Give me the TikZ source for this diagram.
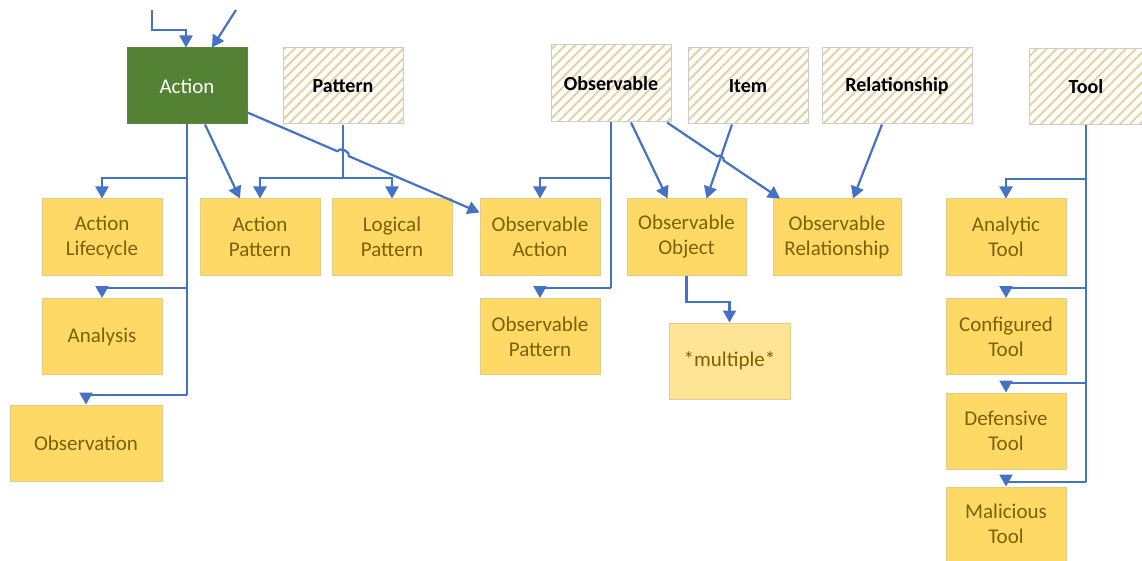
\documentclass[tikz,border=0pt]{standalone}
\usepackage{fontspec}
\setmainfont{Carlito}
\usetikzlibrary{arrows.meta,patterns.meta,calc}

\definecolor{leafyellow}{RGB}{255,217,102}
\definecolor{leafedge}{RGB}{226,204,140}
\definecolor{leaftext}{RGB}{127,96,0}
\definecolor{paleyellow}{RGB}{255,228,150}
\definecolor{actgreen}{RGB}{84,130,53}
\definecolor{hatchtan}{RGB}{228,210,162}
\definecolor{linkblue}{RGB}{68,114,196}

\tikzset{
  box/.style={draw, line width=1pt, minimum width=120pt, minimum height=76pt,
    align=center, inner sep=2pt, font=\fontsize{21}{25}\selectfont},
  leafbox/.style={box, draw=leafedge, fill=leafyellow, text=leaftext},
  hatchbox/.style={box, draw=gray!40,
    pattern={Lines[angle=45,distance=7pt,line width=2pt]}, pattern color=hatchtan,
    font=\fontsize{20}{24}\selectfont\bfseries},
  actbox/.style={box, draw=actgreen!85!gray, fill=actgreen, text=white},
  bus/.style={draw=linkblue, line width=2.2pt},
  link/.style={bus, -{Triangle[width=13pt,length=12pt]}}
}

\begin{document}
\begin{tikzpicture}[x=1pt,y=-1pt]
  \useasboundingbox (0,0) rectangle (1142,561);

  % top row
  \node[actbox] (act) at (187,86) {Action};
  \node[hatchbox] (pat) at (343,86) {Pattern};
  \node[hatchbox, minimum height=77pt] (obs) at (611,83.5) {Observable};
  \node[hatchbox] (item) at (748,86) {Item};
  \node[hatchbox, minimum width=150pt] (rel) at (897,86) {Relationship};
  \node[hatchbox, minimum width=114pt] (tool) at (1086,86.5) {Tool};

  % second row
  \node[leafbox] (alc) at (102,237) {Action\\Lifecycle};
  \node[leafbox] (apat) at (260,237) {Action\\Pattern};
  \node[leafbox] (lpat) at (392,237) {Logical\\Pattern};
  \node[leafbox] (oact) at (540,237) {Observable\\Action};
  \node[leafbox, minimum width=119pt] (oobj) at (686.5,237) {Observable\\Object};
  \node[leafbox, minimum width=128pt] (orel) at (837,237) {Observable\\Relationship};
  \node[leafbox] (atool) at (1006,237) {Analytic\\Tool};

  % lower boxes
  \node[leafbox] (anls) at (102,336.5) {Analysis};
  \node[leafbox] (opat) at (540,336.5) {Observable\\Pattern};
  \node[leafbox, fill=paleyellow, minimum width=121pt] (multi) at (729.5,361) {*multiple*};
  \node[leafbox] (ctool) at (1006,336.5) {Configured\\Tool};
  \node[leafbox, minimum width=152pt] (obsn) at (86,443) {Observation};
  \node[leafbox] (dtool) at (1006,431) {Defensive\\Tool};
  \node[leafbox, minimum height=74pt] (mtool) at (1006,524) {Malicious\\Tool};

  % incoming from above
  \coordinate (inA) at (152,10);
  \coordinate (inB) at (236,10);
  \draw[link] (inA) |- (186,30) -- (act.north -| 186,0);
  \draw[link] (inB) -- ($(act.north)+(25,0)$);

  % Action
  \draw[bus] (act.south) -- (act.south |- 0,395);
  \draw[link] (act.south |- 0,178) -| (alc.north);
  \draw[link] (act.south |- 0,288) -| (anls.north);
  \draw[link] (act.south |- 0,395) -| (obsn.north);
  \draw[link] ($(act.south)+(18,0)$) -- ($(apat.north)+(-20,0)$);
  \coordinate (aE) at ($(act.south east)+(0,-12)$);
  \coordinate (oaW) at ($(oact.north west)+(0,14)$);
  \draw[link] (aE) -- ($(aE)!0.387!(oaW)$) to[bend left=90] ($(aE)!0.437!(oaW)$) -- (oaW);

  % Pattern
  \draw[bus] (pat.south) -- (pat.south |- 0,178);
  \draw[link] (pat.south |- 0,178) -| (apat.north);
  \draw[link] (pat.south |- 0,178) -| (lpat.north);

  % Observable
  \draw[bus] (obs.south) -- (obs.south |- 0,288);
  \draw[link] (obs.south |- 0,178) -| (oact.north);
  \draw[link] (obs.south |- 0,288) -| (opat.north);
  \draw[link] ($(obs.south)+(20,0)$) -- ($(oobj.north)+(-19,0)$);
  \coordinate (oE) at ($(obs.south)+(56,0)$);
  \coordinate (orN) at ($(orel.north)+(-57,0)$);
  \draw[link] (oE) -- ($(oE)!0.445!(orN)$) to[bend left=90] ($(oE)!0.5!(orN)$) -- (orN);

  % Item, Relationship
  \draw[link] ($(item.south)+(-16,0)$) -- ($(oobj.north)+(20,0)$);
  \draw[link] ($(rel.south)+(-15,0)$) -- ($(orel.north)+(16,0)$);

  % Observable Object
  \draw[link] (oobj.south) |- (multi.north |- 0,302) -- (multi.north);

  % Tool
  \draw[bus] (tool.south) -- (tool.south |- 0,482);
  \draw[link] (tool.south |- 0,179) -| (atool.north);
  \draw[link] (tool.south |- 0,288) -| (ctool.north);
  \draw[link] (tool.south |- 0,383) -| (dtool.north);
  \draw[link] (tool.south |- 0,482) -| (mtool.north);
\end{tikzpicture}
\end{document}
